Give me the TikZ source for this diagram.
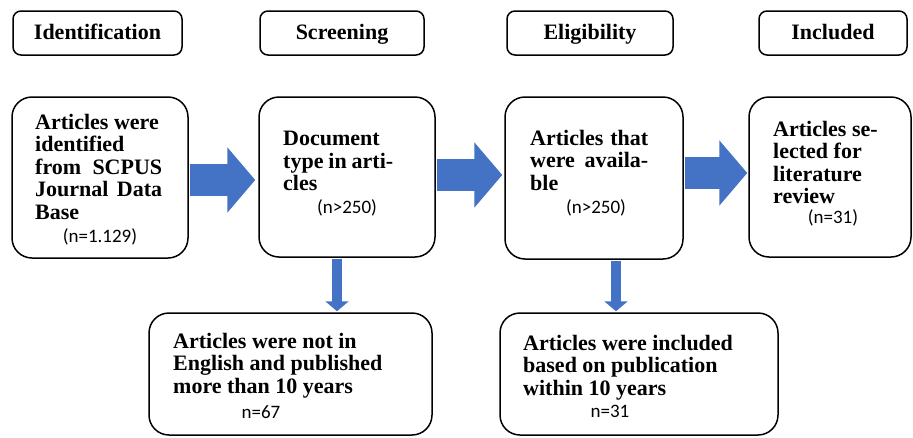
\documentclass[tikz,border=0pt]{standalone}
\usepackage{fontspec}
\setmainfont{Liberation Serif}
\newfontfamily\cntfont{Carlito}
\usetikzlibrary{arrows.meta}
\definecolor{arrblue}{HTML}{4472C4}

\begin{document}
\begin{tikzpicture}[x=1pt,y=-1pt,
  stage/.style={draw,line width=1.5pt,rounded corners=8pt,inner sep=0pt,text height=15pt,text depth=2pt,font=\fontsize{22}{23}\selectfont\bfseries},
  box/.style={draw,line width=1.5pt,rounded corners=20pt,inner sep=0pt},
  body/.style={anchor=north west,inner sep=0pt,font=\fontsize{22}{22.5}\selectfont\bfseries},
  cnt/.style={inner sep=0pt,font=\cntfont\fontsize{19}{19}\selectfont},
  harrow/.style={arrblue,line width=32pt,-{Triangle[width=64pt 0 0,length=28pt 0 0]}},
  varrow/.style={arrblue,line width=10pt,-{Triangle[width=23pt 0 0,length=10pt 0 0]}}]
\useasboundingbox (0,0) rectangle (913,437);

% stage headers
\node[stage,minimum width=169pt,minimum height=44pt] (id) at (97.5,33) {Identification};
\node[stage,minimum width=164pt,minimum height=44pt] (scr) at (342,33) {Screening};
\node[stage,minimum width=166pt,minimum height=44pt] (elig) at (590,33) {Eligibility};
\node[stage,minimum width=148pt,minimum height=44pt] (inc) at (833,33) {Included};

% main row
\node[box,minimum width=176pt,minimum height=161pt] (art) at (100,177.5) {};
\node[body,text width=127pt,align=justify] (art-txt) at (35,114) {Articles were\newline identified\newline from SCPUS\linebreak Journal Data\linebreak Base};
\node[cnt] (art-n) at (100,237) {(n=1.129)};

\node[box,minimum width=176pt,minimum height=160pt] (doc) at (347,177) {};
\node[body,text width=110pt,align=justify] (doc-txt) at (283,131) {Document\newline type in arti-\linebreak cles};
\node[cnt] (doc-n) at (347,208) {(n>250)};

\node[box,minimum width=178pt,minimum height=162pt] (avail) at (594,178) {};
\node[body,text width=118pt,align=justify] (avail-txt) at (530,130) {Articles that\linebreak were availa-\linebreak ble};
\node[cnt] (avail-n) at (596,208) {(n>250)};

\node[box,minimum width=162pt,minimum height=160pt] (sel) at (830,177) {};
\node[body,align=left] (sel-txt) at (773,121) {Articles se-\\lected for\\literature\\review};
\node[cnt] (sel-n) at (833,218) {(n=31)};

% bottom row
\node[box,minimum width=283pt,minimum height=122pt] (excl) at (290.5,374) {};
\node[body,align=left] (excl-txt) at (173,333) {Articles were not in\\English and published\\more than 10 years};
\node[cnt] (excl-n) at (261,412) {n=67};

\node[box,minimum width=278pt,minimum height=122pt] (incl) at (639,374) {};
\node[body,align=left] (incl-txt) at (523,335) {Articles were included\\based on publication\\within 10 years};
\node[cnt] (incl-n) at (610,411) {n=31};

% block arrows
\draw[harrow,shorten <=0.75pt,shorten >=3pt] ([yshift=-2.5pt]art.east) -- ([yshift=-2.5pt]art.east -| doc.west);
\draw[harrow,shorten <=1.5pt,shorten >=2pt] ([yshift=2pt]doc.east) -- ([yshift=2pt]doc.east -| avail.west);
\draw[harrow,shorten <=0.75pt,shorten >=1pt] ([yshift=5pt]avail.east) -- ([yshift=5pt]avail.east -| sel.west);
\draw[varrow,shorten <=0.75pt,shorten >=1pt] ([xshift=-10pt]doc.south) -- ([xshift=-10pt]doc.south |- excl.north);
\draw[varrow,shorten <=0.75pt,shorten >=1pt] ([xshift=22pt]avail.south) -- ([xshift=22pt]avail.south |- incl.north);
\end{tikzpicture}
\end{document}
